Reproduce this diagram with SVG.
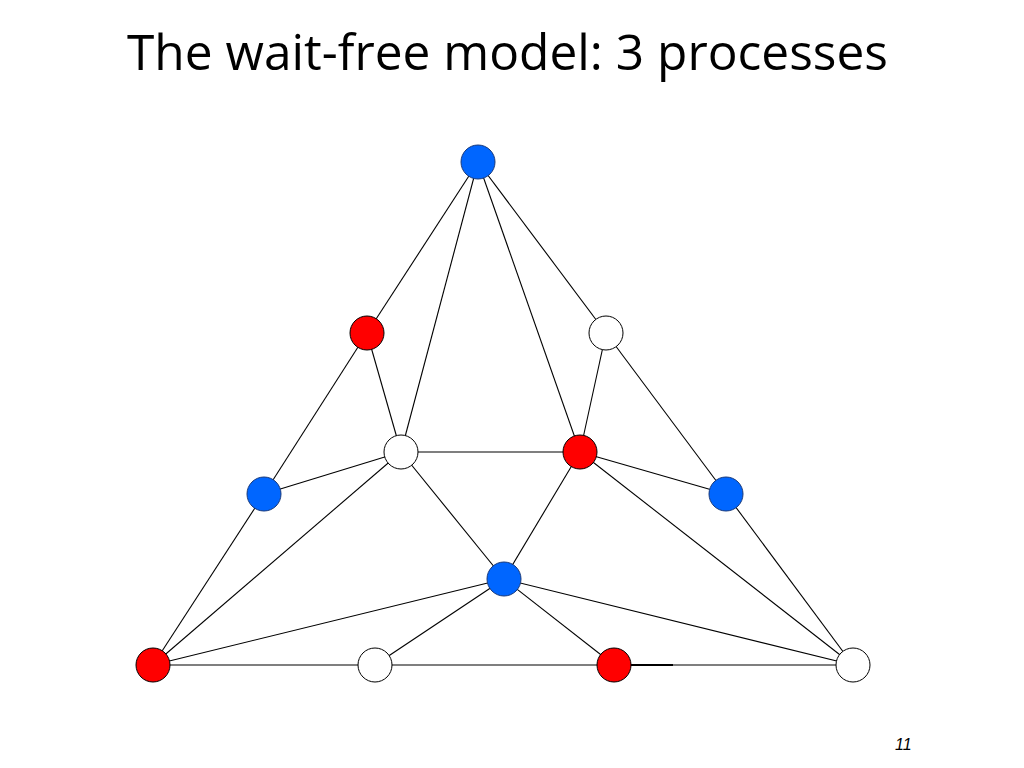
<svg xmlns="http://www.w3.org/2000/svg" width="1024" height="768" viewBox="0 0 1024 768">
<style>
.e{stroke:#000;stroke-width:1.1;fill:none}
.n{stroke:#000;stroke-width:1}
.b{fill:#0066ff;stroke:#1a3a7a}
.r{fill:#ff0000}
.w{fill:#ffffff}
.t{font-family:"Open Sans","Liberation Sans",sans-serif;font-size:50px;fill:#000}
.p{font-family:"Liberation Sans",Arial,sans-serif;font-size:16px;font-style:italic;fill:#000}
</style>
<rect width="1024" height="768" fill="#fff"/>
<text class="t" x="507.5" y="70" text-anchor="middle" textLength="761" lengthAdjust="spacingAndGlyphs">The wait-free model: 3 processes</text>
<g id="connectors">
<line class="e" x1="478" y1="162" x2="367" y2="333"/>
<line class="e" x1="478" y1="162" x2="401" y2="452"/>
<line class="e" x1="478" y1="162" x2="580" y2="452"/>
<line class="e" x1="478" y1="162" x2="606" y2="333"/>
<line class="e" x1="367" y1="333" x2="401" y2="452"/>
<line class="e" x1="367" y1="333" x2="264" y2="494"/>
<line class="e" x1="606" y1="333" x2="580" y2="452"/>
<line class="e" x1="606" y1="333" x2="726" y2="494"/>
<line class="e" x1="401" y1="452" x2="580" y2="452"/>
<line class="e" x1="401" y1="452" x2="264" y2="494"/>
<line class="e" x1="401" y1="452" x2="153" y2="665"/>
<line class="e" x1="401" y1="452" x2="504" y2="579"/>
<line class="e" x1="580" y1="452" x2="726" y2="494"/>
<line class="e" x1="580" y1="452" x2="504" y2="579"/>
<line class="e" x1="580" y1="452" x2="853" y2="665"/>
<line class="e" x1="264" y1="494" x2="153" y2="665"/>
<line class="e" x1="726" y1="494" x2="853" y2="665"/>
<line class="e" x1="504" y1="579" x2="153" y2="665"/>
<line class="e" x1="504" y1="579" x2="375" y2="665"/>
<line class="e" x1="504" y1="579" x2="614" y2="665"/>
<line class="e" x1="504" y1="579" x2="853" y2="665"/>
<line class="e" x1="153" y1="665" x2="853" y2="665"/>
<line x1="630" y1="665" x2="673" y2="665" stroke="#000" stroke-width="2"/>
</g>
<g id="n1"><circle class="n b" cx="478" cy="162" r="17"/></g>
<g id="n2"><circle class="n r" cx="367" cy="333" r="17"/></g>
<g id="n3"><circle class="n w" cx="606" cy="333" r="17"/></g>
<g id="n4"><circle class="n w" cx="401" cy="452" r="17"/></g>
<g id="n5"><circle class="n r" cx="580" cy="452" r="17"/></g>
<g id="n6"><circle class="n b" cx="264" cy="494" r="17"/></g>
<g id="n7"><circle class="n b" cx="726" cy="494" r="17"/></g>
<g id="n8"><circle class="n b" cx="504" cy="579" r="17"/></g>
<g id="n9"><circle class="n r" cx="153" cy="665" r="17"/></g>
<g id="n10"><circle class="n w" cx="375" cy="665" r="17"/></g>
<g id="n11"><circle class="n r" cx="614" cy="665" r="17"/></g>
<g id="n12"><circle class="n w" cx="853" cy="665" r="17"/></g>
<text class="p" x="895" y="750">11</text>
</svg>
